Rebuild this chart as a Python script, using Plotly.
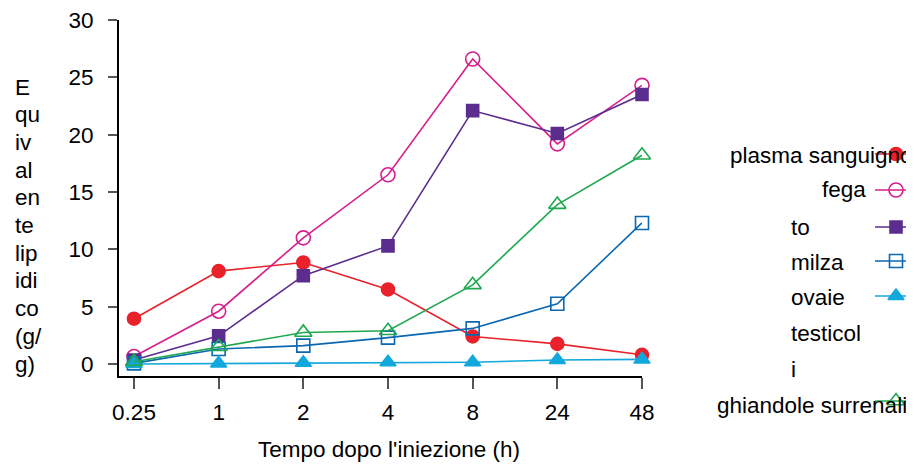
import plotly.graph_objects as go

# page is offset by the default 8px body margin; compensate
OFF = 8
W, H = 914 - OFF, 468 - OFF
FONT = "Liberation Sans, Arial, sans-serif"
FS = 22.5

categories = ["0.25", "1", "2", "4", "8", "24", "48"]

plasma = [3.95, 8.1, 8.85, 6.5, 2.4, 1.75, 0.8]
fegato = [0.65, 4.6, 11.0, 16.5, 26.6, 19.2, 24.3]
viola = [0.35, 2.45, 7.7, 10.3, 22.1, 20.1, 23.5]
milza = [0.05, 1.3, 1.6, 2.3, 3.1, 5.25, 12.3]
ovaie = [0.0, 0.05, 0.1, 0.15, 0.15, 0.35, 0.4]
surrenali = [0.2, 1.5, 2.75, 2.9, 6.9, 13.9, 18.2]

yticks = [0, 5, 10, 15, 20, 25, 30]

# legend labels as shown (wrapped text rows)
legend_rows = ["plasma sanguigno", "fega", "to", "milza", "ovaie", "testicol", "i", "ghiandole surrenali"]
ytitle_lines = ["E", "qu", "iv", "al", "en", "te", "lip", "idi", "co", "(g/", "g)"]
xtitle = "Tempo dopo l'iniezione (h)"

# style per series: (values, color, symbol, size, legend row index)
series = [
    (plasma, "#E8212B", "circle", 13, 0),
    (fegato, "#D61F8C", "circle-open", 14, 1),
    (viola, "#5B2D8E", "square", 12, 2),
    (milza, "#0A67B2", "square-open", 13, 3),
    (ovaie, "#12A8DC", "triangle-up", 14, 4),
    (surrenali, "#1FA84F", "triangle-up-open", 15, 7),
]

# pixel layout (page coordinates)
PX_L, PX_R, PX_T, PX_B = 119, 642, 20, 376
def px_x(p): return (p - OFF) / W
def px_y(p): return 1 - (p - OFF) / H

fig = go.Figure()
for vals, col, sym, size, _ in series:
    fig.add_trace(go.Scatter(
        x=categories, y=vals, mode="lines+markers",
        line=dict(color=col, width=1.6),
        marker=dict(symbol=sym, size=size, color=col, line=dict(color=col, width=1.6)),
        cliponaxis=False, showlegend=False, hoverinfo="skip",
    ))

# legend swatches on an auxiliary axis (page pixel units)
row_text_y = [155, 190, 227, 262, 297, 333, 369, 405]
row_sym_y = [154, 190, 227, 261, 296, 331, 368, 401]
row_text_x = [728, 820, 789, 789, 789, 789, 789, 715]
for vals, col, sym, size, r in series:
    fig.add_trace(go.Scatter(
        x=[875, 896, 920], y=[row_sym_y[r]] * 3, mode="lines+markers",
        line=dict(color=col, width=1.6),
        marker=dict(symbol=sym, size=size, color=col, opacity=[0, 1, 0],
                    line=dict(color=col, width=1.6)),
        xaxis="x2", yaxis="y2", cliponaxis=False, showlegend=False, hoverinfo="skip",
    ))

annotations = []
for i, name in enumerate(legend_rows):
    annotations.append(dict(
        x=px_x(row_text_x[i]), y=px_y(row_text_y[i]), xref="paper", yref="paper",
        xanchor="left", yanchor="middle", text=name, showarrow=False,
        font=dict(family=FONT, size=FS, color="black"),
    ))

for i, line in enumerate(ytitle_lines):
    annotations.append(dict(
        x=px_x(13), y=px_y(87 + i * 27.7), xref="paper", yref="paper",
        xanchor="left", yanchor="middle", text=line, showarrow=False,
        font=dict(family=FONT, size=FS, color="black"),
    ))
annotations.append(dict(
    x=px_x(389), y=px_y(449), xref="paper", yref="paper", xanchor="center", yanchor="middle",
    text=xtitle, showarrow=False, font=dict(family=FONT, size=FS, color="black"),
))

fig.update_layout(
    width=W, height=H,
    margin=dict(l=0, r=0, t=0, b=0, pad=0),
    paper_bgcolor="white", plot_bgcolor="rgba(0,0,0,0)",
    font=dict(family=FONT, size=FS, color="black"),
    annotations=annotations,
    xaxis=dict(
        domain=[px_x(PX_L), px_x(PX_R)], type="category", range=[-0.177, 6],
        showgrid=False, zeroline=False, showline=True, linecolor="black", linewidth=2,
        ticks="outside", ticklen=11, tickwidth=1.5, tickcolor="#555555",
        tickfont=dict(family=FONT, size=FS, color="black"), automargin=False,
        ticklabelstandoff=4, ticklabeloverflow="allow",
    ),
    yaxis=dict(
        domain=[px_y(PX_B), px_y(PX_T)], range=[-1.05, 30.002],
        tickvals=yticks, ticktext=[str(v) for v in yticks],
        showgrid=False, zeroline=False, showline=True, linecolor="black", linewidth=2,
        ticks="outside", ticklen=9, tickwidth=1.5, tickcolor="#555555",
        tickfont=dict(family=FONT, size=FS, color="black"), automargin=False,
        ticklabelstandoff=10, ticklabeloverflow="allow",
    ),
    xaxis2=dict(domain=[0, 1], range=[OFF, OFF + W], visible=False, anchor="y2", fixedrange=True),
    yaxis2=dict(domain=[0, 1], range=[OFF + H, OFF], visible=False, anchor="x2", fixedrange=True),
)

fig.write_html("out.html")
